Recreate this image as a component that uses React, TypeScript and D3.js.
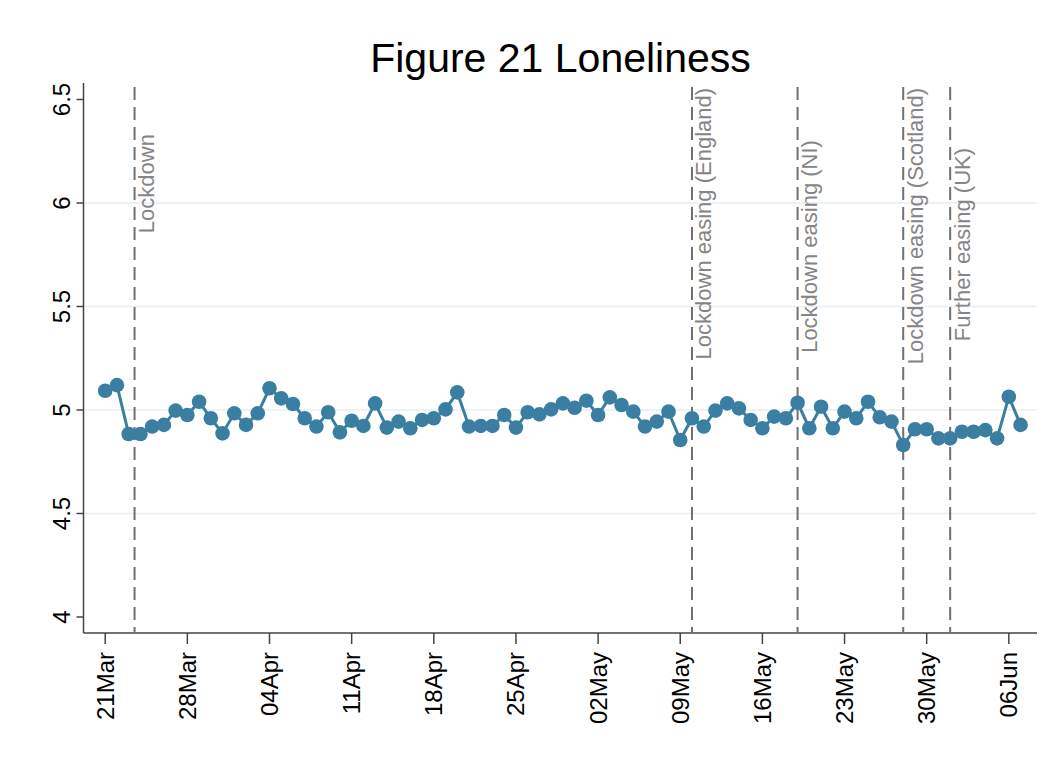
import React from "react";
import * as d3 from "d3";

const startDate = new Date(2020, 2, 21);
const values: number[] = [
  5.093, 5.12, 4.884, 4.884, 4.92, 4.928, 4.997, 4.976, 5.04, 4.96,
  4.887, 4.984, 4.928, 4.984, 5.105, 5.056, 5.029, 4.96, 4.92, 4.989,
  4.892, 4.948, 4.923, 5.032, 4.915, 4.944, 4.912, 4.952, 4.96, 5.003,
  5.085, 4.92, 4.923, 4.923, 4.976, 4.915, 4.989, 4.979, 5.003, 5.032,
  5.011, 5.045, 4.976, 5.061, 5.024, 4.992, 4.92, 4.944, 4.992, 4.855,
  4.96, 4.92, 4.997, 5.032, 5.008, 4.952, 4.912, 4.968, 4.96, 5.035,
  4.912, 5.016, 4.912, 4.992, 4.96, 5.04, 4.965, 4.944, 4.831, 4.907,
  4.907, 4.863, 4.863, 4.895, 4.895, 4.903, 4.863, 5.064, 4.928,
];
const xTickOffsets = [0, 7, 14, 21, 28, 35, 42, 49, 56, 63, 70, 77];
const yTicks = [4, 4.5, 5, 5.5, 6, 6.5];
const gridTicks = [4.5, 5, 5.5, 6];
const eventLabels = [
  "Lockdown",
  "Lockdown easing (England)",
  "Lockdown easing (NI)",
  "Lockdown easing (Scotland)",
  "Further easing (UK)",
];
const eventOffsets = [2.5, 50, 59, 68, 72];
const eventLabelTop = [6.333, 6.556, 6.304, 6.556, 6.266];

const dayMs = 24 * 3600 * 1000;
const addDays = (n: number) => new Date(startDate.getTime() + n * dayMs);

export default function App() {
  const W = 1052, H = 769;
  const x = d3
    .scaleTime()
    .domain([addDays(-1.85), addDays(79.4)])
    .range([83.5, 1037]);
  const y = d3.scaleLinear().domain([4, 6.5]).range([617, 99.5]);
  const data = values.map((v, i) => ({ date: addDays(i), v }));
  const line = d3
    .line<{ date: Date; v: number }>()
    .x((d) => x(d.date))
    .y((d) => y(d.v));
  const fmt = d3.timeFormat("%d%b");
  const color = "#3a7fa2";
  const font = "'Liberation Sans', Arial, sans-serif";
  const axisY = 633;
  const axisX = 83.5;
  return (
    <svg width={W} height={H} style={{ position: "absolute", left: 0, top: 0, background: "#fff" }} fontFamily={font}>
      <rect x={0} y={0} width={W} height={H} fill="#fff" />
      <text x={560.5} y={72} textAnchor="middle" fontSize={41} fill="#000">
        Figure 21 Loneliness
      </text>
      {gridTicks.map((t) => (
        <line key={t} x1={axisX} x2={1037} y1={y(t)} y2={y(t)} stroke="#e6eff2" strokeWidth={1.5} />
      ))}
      {/* y axis */}
      <line x1={axisX} x2={axisX} y1={83} y2={axisY} stroke="#444" strokeWidth={1.5} />
      {yTicks.map((t) => (
        <g key={t}>
          <line x1={axisX - 7} x2={axisX} y1={y(t)} y2={y(t)} stroke="#444" strokeWidth={1.5} />
          <text
            transform={`translate(${70},${y(t)}) rotate(-90)`}
            textAnchor="middle"
            fontSize={24}
            fill="#000"
          >
            {String(t)}
          </text>
        </g>
      ))}
      {/* x axis */}
      <line x1={axisX} x2={1037} y1={axisY} y2={axisY} stroke="#444" strokeWidth={1.5} />
      {xTickOffsets.map((o) => {
        const d = addDays(o);
        const px = x(d);
        return (
          <g key={o}>
            <line x1={px} x2={px} y1={axisY} y2={axisY + 11} stroke="#444" strokeWidth={1.5} />
            <text
              transform={`translate(${px + 8.5},${axisY + 19}) rotate(-90)`}
              textAnchor="end"
              fontSize={24}
              fill="#000"
            >
              {fmt(d)}
            </text>
          </g>
        );
      })}
      {/* events */}
      {eventOffsets.map((o, i) => {
        const px = x(addDays(o));
        return (
          <g key={i}>
            <line x1={px} x2={px} y1={87} y2={axisY} stroke="#707070" strokeWidth={2} strokeDasharray="13 7" />
            <text
              transform={`translate(${px + 19.5},${y(eventLabelTop[i])}) rotate(-90)`}
              textAnchor="end"
              fontSize={22}
              fill="#858585"
            >
              {eventLabels[i]}
            </text>
          </g>
        );
      })}
      <path d={line(data) || ""} fill="none" stroke={color} strokeWidth={3} />
      {data.map((d, i) => (
        <circle key={i} cx={x(d.date)} cy={y(d.v)} r={7.3} fill={color} />
      ))}
    </svg>
  );
}
